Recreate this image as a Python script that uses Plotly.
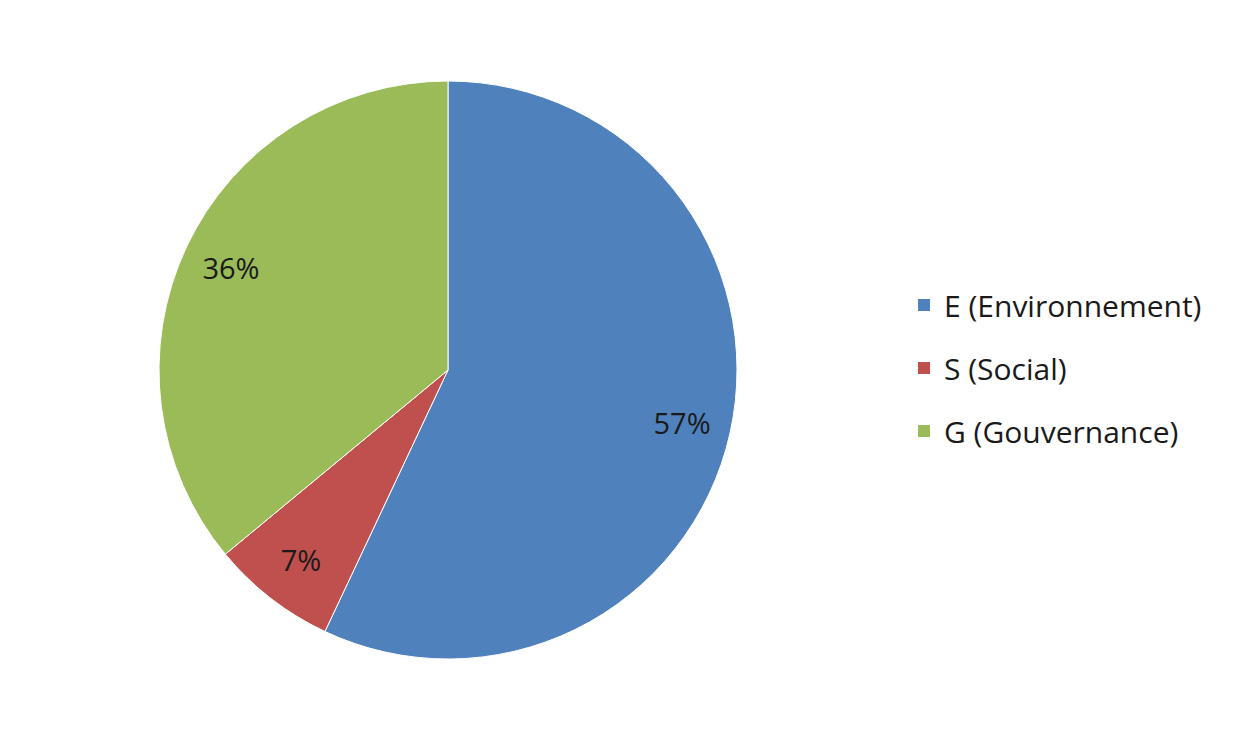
import plotly.graph_objects as go

categories = ["E (Environnement)", "S (Social)", "G (Gouvernance)"]
values = [57, 7, 36]
colors = ["#4F81BD", "#C0504D", "#9BBB59"]

W, H = 1235, 738
cx, cy, R = 448, 370, 289
dom_x = [(cx - R) / W, (cx + R) / W]
dom_y = [(H - cy - R) / H, (H - cy + R) / H]

FONT = "Open Sans"

fig = go.Figure()

# main pie (no text)
fig.add_trace(go.Pie(
    labels=categories, values=values, sort=False, direction="clockwise", rotation=0,
    marker=dict(colors=colors, line=dict(color="white", width=1)),
    textinfo="none", hoverinfo="label+percent", showlegend=False,
    domain=dict(x=dom_x, y=dom_y),
))

# transparent ring overlay to place labels at ~0.83 R
fig.add_trace(go.Pie(
    labels=categories, values=values, sort=False, direction="clockwise", rotation=0,
    hole=0.66,
    marker=dict(colors=["rgba(0,0,0,0)"] * 3, line=dict(width=0)),
    textinfo="percent", texttemplate="%{percent:.0%}", textposition="inside",
    insidetextorientation="horizontal",
    insidetextfont=dict(family=FONT, size=29, color="#1a1a1a"),
    hoverinfo="skip", showlegend=False,
    domain=dict(x=dom_x, y=dom_y),
))

# legend entries
for cat, col in zip(categories, colors):
    fig.add_trace(go.Scatter(
        x=[None], y=[None], mode="markers", name=cat, legendgroup=cat,
        marker=dict(symbol="square", size=17, color=col),
    ))

fig.update_layout(
    width=W, height=H,
    margin=dict(l=0, r=0, t=0, b=0),
    paper_bgcolor="white", plot_bgcolor="white",
    xaxis=dict(visible=False), yaxis=dict(visible=False),
    showlegend=True,
    legend=dict(
        x=904 / W, y=(H - 368) / H, xanchor="left", yanchor="middle",
        font=dict(family=FONT, size=30, color="#1a1a1a"),
        tracegroupgap=21, itemsizing="constant",
        bgcolor="rgba(0,0,0,0)",
    ),
)

fig.write_html("out.html", config={"displayModeBar": False},
               post_script="document.body.style.margin='0';")
